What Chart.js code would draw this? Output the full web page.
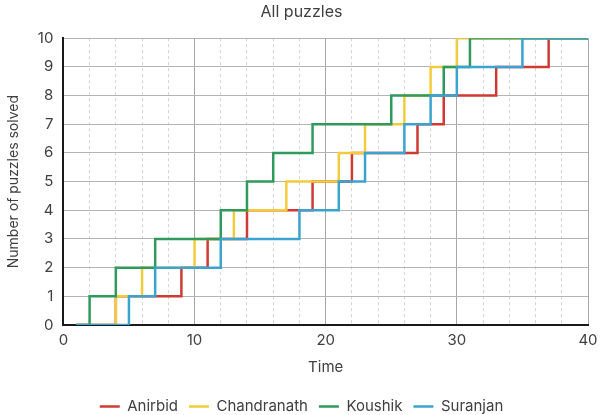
<!DOCTYPE html>
<html>
<head>
<meta charset="utf-8">
<script src="https://cdn.jsdelivr.net/npm/chart.js@4"></script>
<style>
  html, body { margin: 0; padding: 0; background: #fff; }
  #wrap { width: 600px; height: 415px; }
</style>
</head>
<body>
<div id="wrap"><canvas id="chart"></canvas></div>
<script>
// puzzles solved so far, one step at each time below
const solvedCounts = [0, 1, 2, 3, 4, 5, 6, 7, 8, 9, 10, 10]
const anirbidTimes = [1, 4, 9, 11, 14, 19, 22, 27, 29, 33, 37, 40]
const chandranathTimes = [1, 4, 6, 10, 13, 17, 21, 23, 26, 28, 30, 40]
const koushikTimes = [1, 2, 4, 7, 12, 14, 16, 19, 25, 29, 31, 40]
const suranjanTimes = [1, 5, 7, 12, 18, 21, 23, 26, 28, 30, 35, 40]
const xTickLabels = [0, 10, 20, 30, 40]

const names = ['Anirbid', 'Chandranath', 'Koushik', 'Suranjan']
const colors = ['#d03a34', '#f2cc3c', '#2f9a5c', '#3aa3cf']
const allTimes = [anirbidTimes, chandranathTimes, koushikTimes, suranjanTimes]

const toPoints = (times) => times.map((t, i) => ({ x: t, y: solvedCounts[i] }))

const font = { family: 'Inter, "Noto Sans", sans-serif', size: 15 }

new Chart(document.getElementById('chart').getContext('2d'), {
  type: 'line',
  data: {
    datasets: names.map((name, i) => ({
      label: name,
      data: toPoints(allTimes[i]),
      borderColor: colors[i],
      backgroundColor: colors[i],
      borderWidth: 2.5,
      pointRadius: 0,
      stepped: 'before',
      fill: false,
      order: names.length - i // later series drawn on top
    }))
  },
  options: {
    responsive: true,
    maintainAspectRatio: false,
    animation: false,
    layout: { padding: { left: 5, right: 2, top: 2, bottom: -9 } },
    plugins: {
      title: {
        display: true,
        text: 'All puzzles',
        color: '#404040',
        font: { ...font, size: 16, weight: 'normal' },
        padding: { top: 1, bottom: 16 }
      },
      legend: {
        position: 'bottom',
        labels: {
          usePointStyle: true,
          pointStyle: 'line',
          pointStyleWidth: 20,
          boxWidth: 20,
          color: '#404040',
          font: font,
          padding: 11,
          sort: (a, b) => a.datasetIndex - b.datasetIndex
        }
      },
      tooltip: { enabled: false }
    },
    scales: {
      x: {
        type: 'linear',
        min: 0,
        max: 40,
        title: { display: true, text: 'Time', color: '#404040', font: font, padding: { top: 3, bottom: 12 } },
        ticks: {
          stepSize: 2,
          autoSkip: false,
          maxRotation: 0,
          color: '#404040',
          font: font,
          padding: 6,
          callback: (v) => (xTickLabels.includes(v) ? String(v) : '')
        },
        afterFit: (scale) => { scale.paddingRight = 12 },
        grid: {
          drawTicks: false,
          color: (ctx) => (ctx.tick && ctx.tick.value % 10 === 0 ? '#a8a8a8' : '#d4d4d4'),
          lineWidth: 1
        },
        border: {
          color: '#1a1a1a',
          width: 2,
          dash: (ctx) => (ctx.tick && ctx.tick.value % 10 !== 0 ? [3, 3] : [])
        }
      },
      y: {
        type: 'linear',
        min: 0,
        max: 10,
        title: { display: true, text: 'Number of puzzles solved', color: '#404040', font: { ...font, size: 14 }, padding: { top: 0, bottom: 6 } },
        ticks: { stepSize: 1, color: '#404040', font: font, padding: 10 },
        grid: { drawTicks: false, color: '#b4b4b4', lineWidth: 1 },
        border: { color: '#1a1a1a', width: 2 }
      }
    }
  }
})
</script>
</body>
</html>
